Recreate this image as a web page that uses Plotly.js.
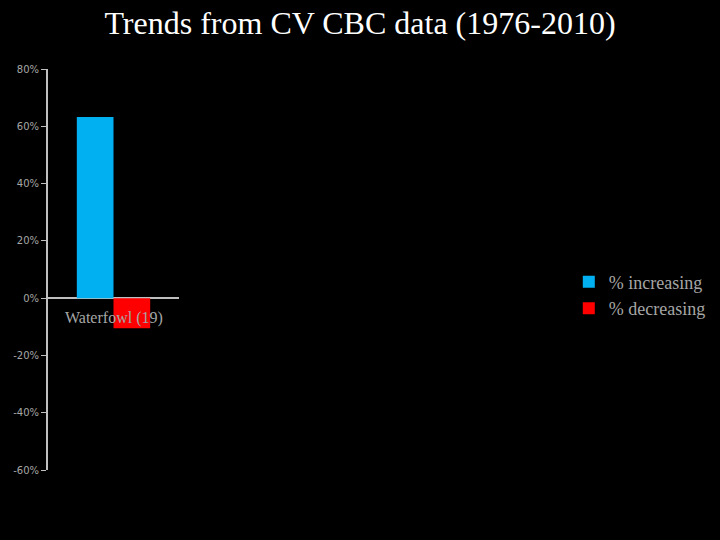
<!DOCTYPE html>
<html>
<head>
<meta charset="utf-8">
<script src="https://cdn.plot.ly/plotly-3.0.1.min.js"></script>
<style>html,body{margin:0;padding:0;background:#000;}#chart{width:720px;height:540px;}</style>
</head>
<body>
<div id="chart"></div>
<script>
var categories = ["Waterfowl (19)"];
var seriesNames = ["% increasing", "% decreasing"];
var increasing = [63.2];
var decreasing = [-10.5];
var yTickVals = [-60, -40, -20, 0, 20, 40, 60, 80];
var yTickText = ["-60%", "-40%", "-20%", "0%", "20%", "40%", "60%", "80%"];

var traces = [
  {type: "bar", name: seriesNames[0], x: categories, y: increasing, marker: {color: "#00b0f0"}},
  {type: "bar", name: seriesNames[1], x: categories, y: decreasing, marker: {color: "#ff0000"}}
];

var layout = {
  width: 720, height: 540,
  paper_bgcolor: "#000", plot_bgcolor: "#000",
  margin: {l: 48, r: 0, t: 69, b: 70},
  title: {text: "Trends from CV CBC data (1976-2010)", font: {family: "Liberation Serif, Times New Roman, serif", size: 32, color: "#ffffff"}, x: 0.5, xanchor: "center", y: 0.957, yanchor: "middle"},
  barmode: "group", bargap: 0.44, bargroupgap: 0,
  showlegend: true,
  legend: {x: 0.775, xanchor: "left", y: 0.436, yanchor: "middle", font: {family: "Liberation Serif, Times New Roman, serif", size: 18, color: "#a6a6a6"}, bgcolor: "rgba(0,0,0,0)", tracegroupgap: 6},
  xaxis: {domain: [0, 131/672], showticklabels: false, showline: false, showgrid: false, zeroline: false, ticks: "", fixedrange: true},
  yaxis: {range: [-60, 80], tickvals: yTickVals, ticktext: yTickText, showgrid: false, zeroline: true, zerolinecolor: "#bfbfbf", zerolinewidth: 2, showline: true, linecolor: "#bfbfbf", linewidth: 2, ticks: "outside", ticklen: 5, tickcolor: "#bfbfbf", tickfont: {family: "DejaVu Sans, Tahoma, sans-serif", size: 10, color: "#a6a6a6"}},
  annotations: [{x: categories[0], y: 0, xref: "x", yref: "y", text: categories[0], showarrow: false, yanchor: "top", yshift: -9, font: {family: "Liberation Serif, Times New Roman, serif", size: 16, color: "#a6a6a6"}}]
};

Plotly.newPlot("chart", traces, layout, {displayModeBar: false, staticPlot: true});
</script>
</body>
</html>
